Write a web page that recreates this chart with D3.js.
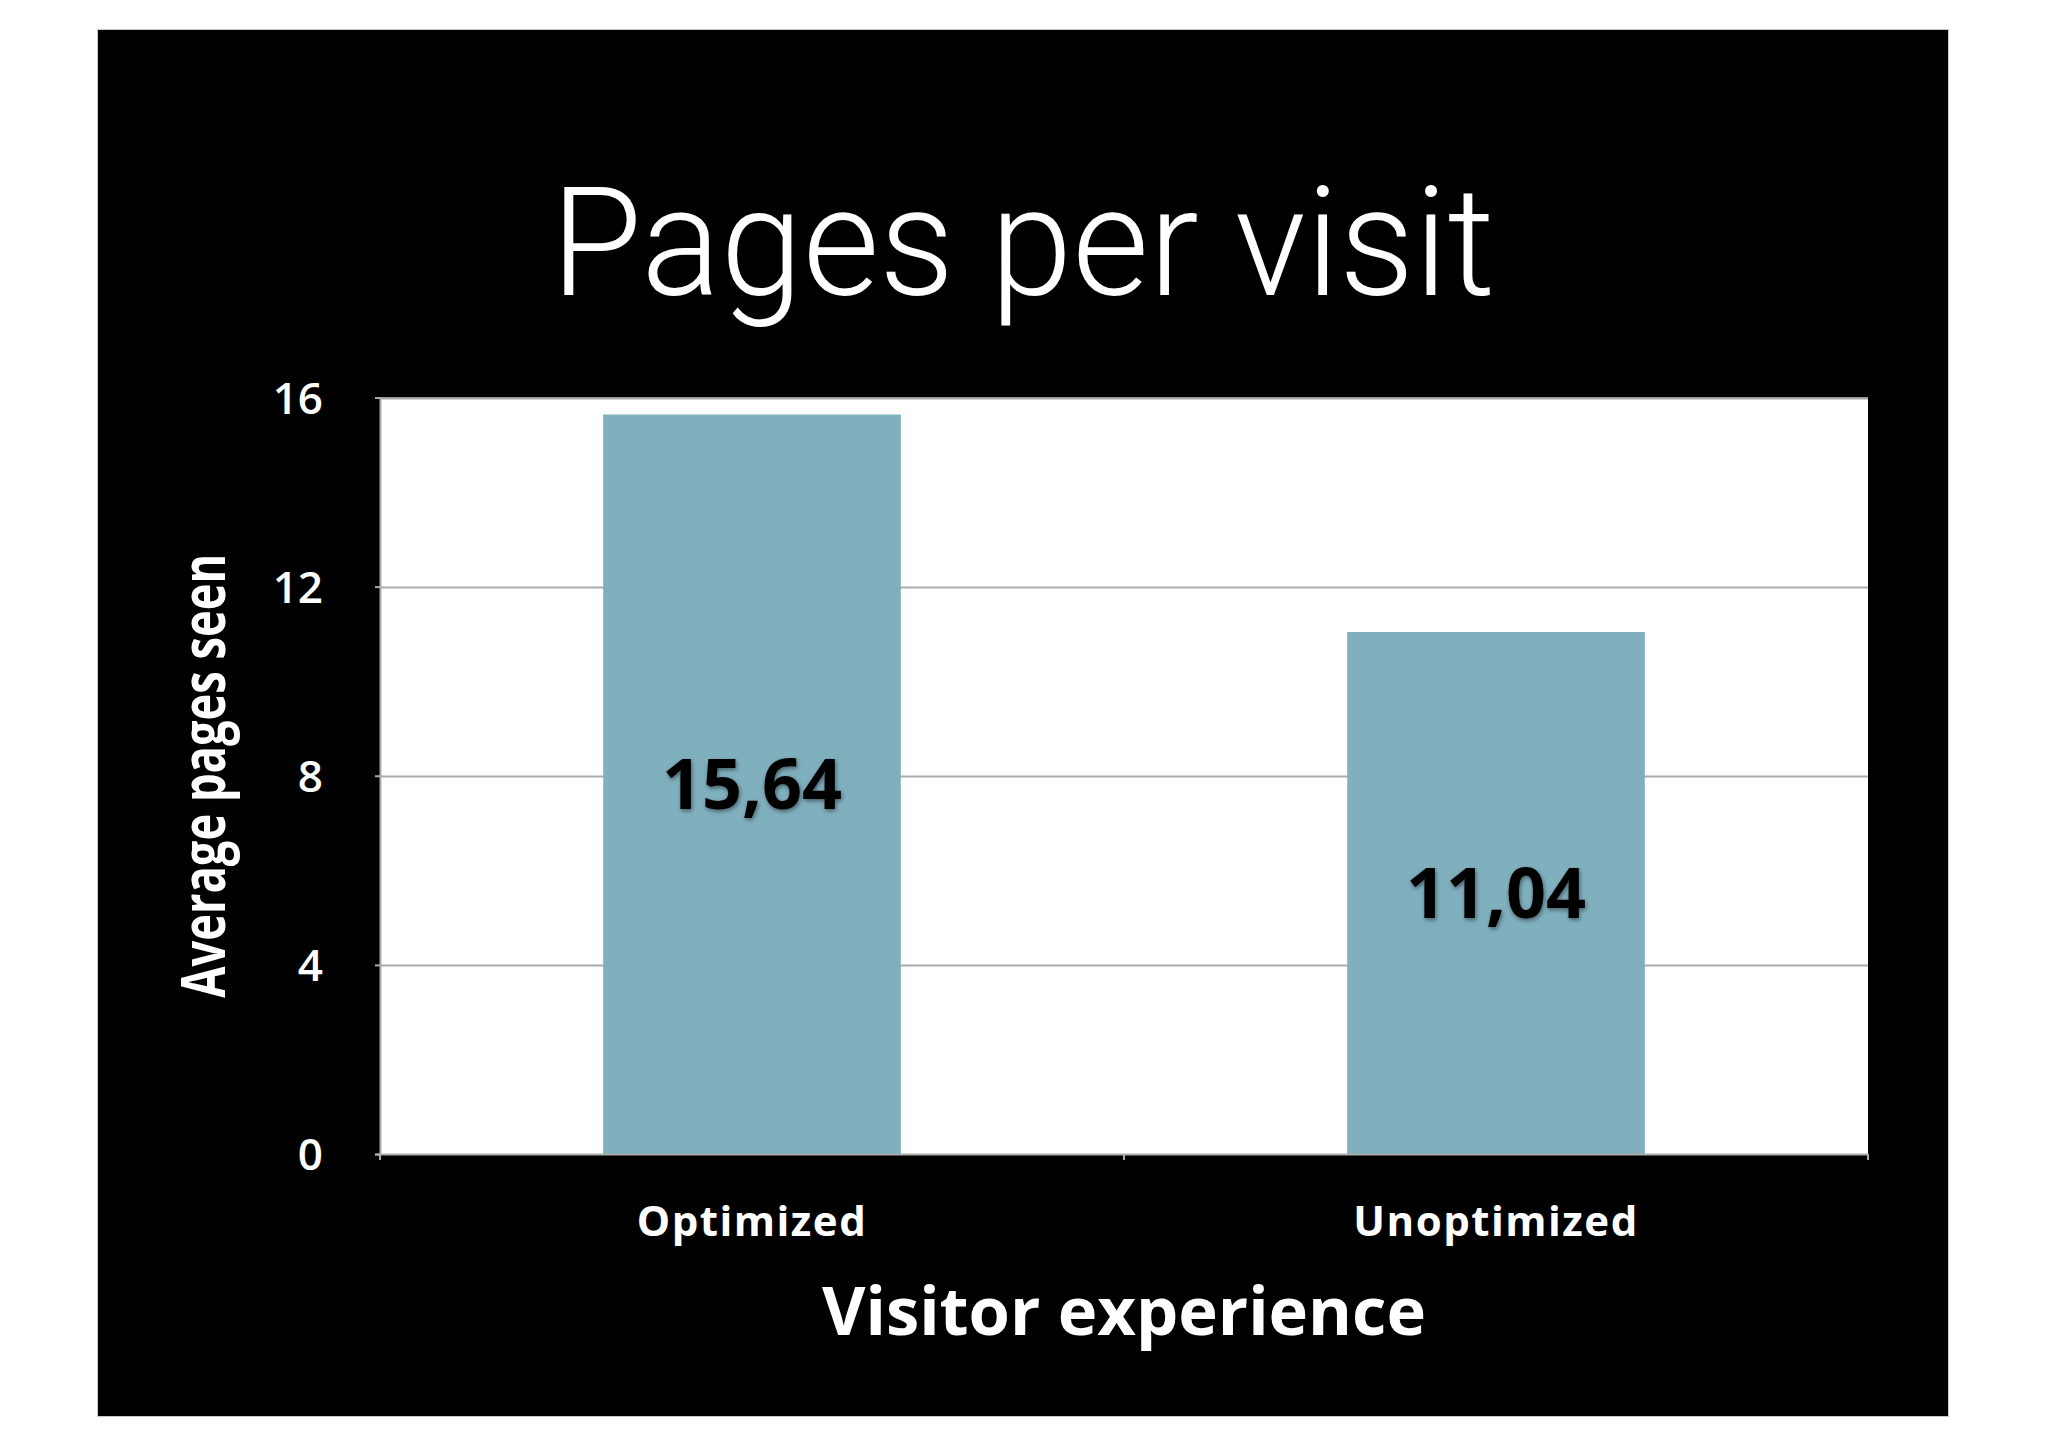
<!DOCTYPE html>
<html>
<head>
<meta charset="utf-8">
<script src="https://cdn.jsdelivr.net/npm/d3@7"></script>
<style>
  html, body { margin: 0; padding: 0; background: #ffffff; }
  svg { display: block; }
</style>
</head>
<body>
<svg id="chart" width="2048" height="1447"></svg>
<script>
// ---- data ----
const categories = ["Optimized", "Unoptimized"];
const values = [15.64, 11.04];
const yTicks = [0, 4, 8, 12, 16];
const titleText = "Pages per visit";
const xTitleText = "Visitor experience";
const yTitleText = "Average pages seen";

// ---- layout ----
const W = 2048, H = 1447;
const frame = { x: 97.5, y: 29.5, w: 1851, h: 1387 };
const plot = { left: 380, right: 1868, top: 397.5, bottom: 1154 };

const svg = d3.select("#chart");

const defs = svg.append("defs");
const f = defs.append("filter").attr("id", "shadow")
  .attr("x", "-20%").attr("y", "-30%").attr("width", "140%").attr("height", "160%");
f.append("feDropShadow").attr("dx", 1).attr("dy", 2).attr("stdDeviation", 2.2)
  .attr("flood-color", "#000").attr("flood-opacity", 0.45);

// black slide background
svg.append("rect")
  .attr("x", frame.x).attr("y", frame.y).attr("width", frame.w).attr("height", frame.h)
  .attr("fill", "#000").attr("stroke", "#c8c8c8").attr("stroke-width", 1);

// title
svg.append("text")
  .attr("x", 1023).attr("y", 295)
  .attr("text-anchor", "middle")
  .attr("font-family", "Roboto, 'Liberation Sans', sans-serif")
  .attr("font-weight", 300)
  .attr("font-size", 152)
  .attr("fill", "#fff")
  .attr("textLength", 944)
  .attr("lengthAdjust", "spacingAndGlyphs")
  .text(titleText);

// scales
const x = d3.scaleBand().domain(categories).range([plot.left, plot.right])
  .paddingInner(0.6).paddingOuter(0.3);
const y = d3.scaleLinear().domain([0, 16]).range([plot.bottom, plot.top]);

// plot background
svg.append("rect")
  .attr("x", plot.left).attr("y", plot.top)
  .attr("width", plot.right - plot.left).attr("height", plot.bottom - plot.top)
  .attr("fill", "#fff");

// gridlines
svg.append("g").selectAll("line").data(yTicks.filter(d => d > 0)).join("line")
  .attr("x1", plot.left).attr("x2", plot.right)
  .attr("y1", d => Math.round(y(d)) + 0.5).attr("y2", d => Math.round(y(d)) + 0.5)
  .attr("stroke", "#ababab").attr("stroke-width", 2);

// bars
svg.append("g").selectAll("rect").data(values).join("rect")
  .attr("x", (d, i) => x(categories[i]))
  .attr("y", d => y(d))
  .attr("width", x.bandwidth())
  .attr("height", d => y(0) - y(d))
  .attr("fill", "#80afbe");

// value labels
const loc = d3.formatLocale({ decimal: ",", thousands: ".", grouping: [3], currency: ["", ""] });
const fmt = loc.format(".2f");
svg.append("g").selectAll("text").data(values).join("text")
  .attr("x", (d, i) => x(categories[i]) + x.bandwidth() / 2)
  .attr("y", d => (y(d) + y(0)) / 2)
  .attr("dy", "0.36em")
  .attr("text-anchor", "middle")
  .attr("font-family", "'Open Sans', 'DejaVu Sans', sans-serif")
  .attr("font-weight", 700)
  .attr("font-size", 70)
  .attr("fill", "#000")
  .attr("filter", "url(#shadow)")
  .text(d => fmt(d));

// y axis
const yAxis = svg.append("g")
  .attr("transform", `translate(${plot.left},0)`)
  .call(d3.axisLeft(y).tickValues(yTicks).tickSize(5).tickPadding(52).tickFormat(d3.format("d")));
yAxis.select(".domain").attr("stroke", "#ababab").attr("stroke-width", 2);
yAxis.selectAll(".tick line").attr("stroke", "#ababab").attr("stroke-width", 2);
yAxis.selectAll(".tick text")
  .attr("fill", "#fff")
  .attr("font-family", "'Open Sans', 'DejaVu Sans', sans-serif")
  .attr("font-weight", 600)
  .attr("font-size", 44)
  .attr("dy", "0.36em");

// x axis
const xAxis = svg.append("g")
  .attr("transform", `translate(0,${plot.bottom})`)
  .call(d3.axisBottom(x).tickSize(0).tickPadding(52));
xAxis.select(".domain").attr("stroke", "#ababab").attr("stroke-width", 2);
xAxis.selectAll(".tick text")
  .attr("fill", "#fff")
  .attr("font-family", "'Open Sans', 'DejaVu Sans', sans-serif")
  .attr("font-weight", 700)
  .attr("font-size", 42)
  .attr("letter-spacing", 1.5)
  .attr("dy", "0.71em");
// category boundary ticks
const bounds = [plot.left, (plot.left + plot.right) / 2, plot.right];
xAxis.append("g").selectAll("line").data(bounds).join("line")
  .attr("x1", d => d).attr("x2", d => d)
  .attr("y1", 0).attr("y2", 6)
  .attr("stroke", "#ababab").attr("stroke-width", 2);

// axis titles
svg.append("text")
  .attr("x", (plot.left + plot.right) / 2).attr("y", 1335)
  .attr("text-anchor", "middle")
  .attr("font-family", "'Open Sans', 'DejaVu Sans', sans-serif")
  .attr("font-weight", 700)
  .attr("font-size", 66)
  .attr("fill", "#fff")
  .attr("textLength", 604)
  .attr("lengthAdjust", "spacingAndGlyphs")
  .text(xTitleText);

svg.append("text")
  .attr("transform", `translate(225,${(plot.top + plot.bottom) / 2}) rotate(-90)`)
  .attr("text-anchor", "middle")
  .attr("font-family", "'Open Sans', 'DejaVu Sans', sans-serif")
  .attr("font-weight", 700)
  .attr("font-size", 60)
  .attr("fill", "#fff")
  .attr("textLength", 444)
  .attr("lengthAdjust", "spacingAndGlyphs")
  .text(yTitleText);
</script>
</body>
</html>
